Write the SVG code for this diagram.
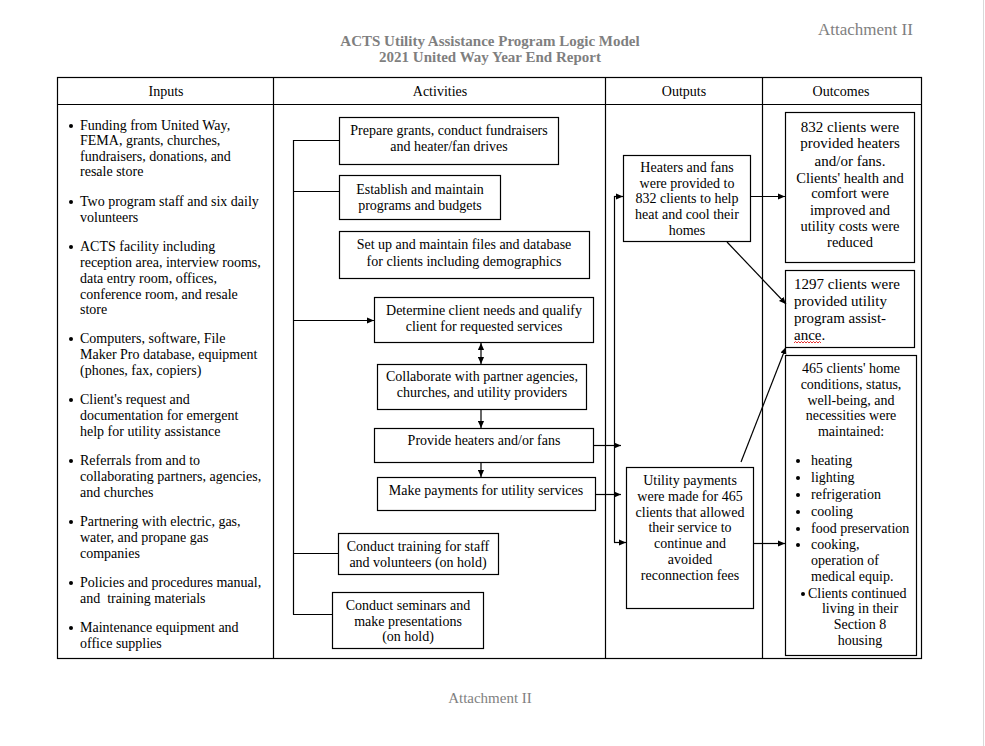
<svg xmlns="http://www.w3.org/2000/svg" width="985" height="746" viewBox="0 0 985 746">
<style>
text{font-family:"Liberation Serif","Times New Roman",serif;fill:#000;font-size:14px}
.t{fill:#7f7f7f}
.c{text-anchor:middle}
.b{fill:#fff;stroke:#000;stroke-width:1.2}
.ln{stroke:#000;stroke-width:1.2;fill:none}
.o15{font-size:15px}
</style>
<defs>
<marker id="ah" viewBox="0 0 8 8" refX="8" refY="4" markerWidth="7" markerHeight="7" markerUnits="userSpaceOnUse" orient="auto-start-reverse">
<path d="M0,0.5 L8,4 L0,7.5 Z" fill="#000"/>
</marker>
</defs>
<rect width="985" height="746" fill="#fff"/>
<line x1="983.5" y1="0" x2="983.5" y2="746" stroke="#d9d9d9" stroke-width="1"/>
<g id="titles">
<text class="t" x="818" y="35" style="font-size:17px">Attachment II</text>
<text class="t c" x="490" y="46" style="font-size:15px;font-weight:bold">ACTS Utility Assistance Program Logic Model</text>
<text class="t c" x="490" y="62" style="font-size:15px;font-weight:bold">2021 United Way Year End Report</text>
<text class="t c" x="490" y="703" style="font-size:15px">Attachment II</text>
</g>
<g id="table">
<rect x="57.5" y="77.5" width="864" height="581" fill="none" stroke="#000" stroke-width="1.2"/>
<line class="ln" x1="57.5" y1="104.5" x2="921.5" y2="104.5"/>
<line class="ln" x1="273.5" y1="77.5" x2="273.5" y2="658.5"/>
<line class="ln" x1="605.5" y1="77.5" x2="605.5" y2="658.5"/>
<line class="ln" x1="762.5" y1="77.5" x2="762.5" y2="658.5"/>
<text class="c" x="166" y="96">Inputs</text>
<text class="c" x="440" y="96">Activities</text>
<text class="c" x="684" y="96">Outputs</text>
<text class="c" x="841" y="96">Outcomes</text>
</g>
<g id="inputs">
<g fill="#000">
<circle cx="71" cy="126" r="2"/><circle cx="71" cy="202" r="2"/><circle cx="71" cy="247" r="2"/><circle cx="71" cy="339" r="2"/><circle cx="71" cy="400" r="2"/><circle cx="71" cy="461" r="2"/><circle cx="71" cy="522" r="2"/><circle cx="71" cy="583" r="2"/><circle cx="71" cy="628" r="2"/>
</g>
<text x="80" y="130">Funding from United Way,</text>
<text x="80" y="145">FEMA, grants, churches,</text>
<text x="80" y="161">fundraisers, donations, and</text>
<text x="80" y="176">resale store</text>
<text x="80" y="206">Two program staff and six daily</text>
<text x="80" y="222">volunteers</text>
<text x="80" y="251">ACTS facility including</text>
<text x="80" y="267">reception area, interview rooms,</text>
<text x="80" y="283">data entry room, offices,</text>
<text x="80" y="299">conference room, and resale</text>
<text x="80" y="314">store</text>
<text x="80" y="343">Computers, software, File</text>
<text x="80" y="359">Maker Pro database, equipment</text>
<text x="80" y="375">(phones, fax, copiers)</text>
<text x="80" y="404">Client's request and</text>
<text x="80" y="420">documentation for emergent</text>
<text x="80" y="436">help for utility assistance</text>
<text x="80" y="465">Referrals from and to</text>
<text x="80" y="481">collaborating partners, agencies,</text>
<text x="80" y="497">and churches</text>
<text x="80" y="526">Partnering with electric, gas,</text>
<text x="80" y="542">water, and propane gas</text>
<text x="80" y="558">companies</text>
<text x="80" y="587">Policies and procedures manual,</text>
<text x="80" y="603" xml:space="preserve">and  training materials</text>
<text x="80" y="632">Maintenance equipment and</text>
<text x="80" y="648">office supplies</text>
</g>
<g id="act1"><rect class="b" x="339.5" y="117.5" width="219" height="47"/>
<text class="c" x="449" y="135">Prepare grants, conduct fundraisers</text><text class="c" x="449" y="151">and heater/fan drives</text></g>
<g id="act2"><rect class="b" x="339.5" y="175.5" width="161" height="44"/>
<text class="c" x="420" y="194">Establish and maintain</text><text class="c" x="420" y="210">programs and budgets</text></g>
<g id="act3"><rect class="b" x="339.5" y="231.5" width="250" height="47"/>
<text class="c" x="464" y="249">Set up and maintain files and database</text><text class="c" x="464" y="266">for clients including demographics</text></g>
<g id="act4"><rect class="b" x="374.5" y="297.5" width="219" height="45"/>
<text class="c" x="484" y="315">Determine client needs and qualify</text><text class="c" x="484" y="331">client for requested services</text></g>
<g id="act5"><rect class="b" x="377.5" y="364.5" width="209" height="45"/>
<text class="c" x="482" y="381">Collaborate with partner agencies,</text><text class="c" x="482" y="397">churches, and utility providers</text></g>
<g id="act6"><rect class="b" x="374.5" y="428.5" width="219" height="34"/>
<text class="c" x="484" y="445">Provide heaters and/or fans</text></g>
<g id="act7"><rect class="b" x="377.5" y="477.5" width="218" height="33"/>
<text class="c" x="486" y="495">Make payments for utility services</text></g>
<g id="act8"><rect class="b" x="338.5" y="533.5" width="160" height="41"/>
<text class="c" x="418" y="551">Conduct training for staff</text><text class="c" x="418" y="567">and volunteers (on hold)</text></g>
<g id="act9"><rect class="b" x="332.5" y="592.5" width="151" height="56"/>
<text class="c" x="408" y="610">Conduct seminars and</text><text class="c" x="408" y="626">make presentations</text><text class="c" x="408" y="641">(on hold)</text></g>
<g id="out1"><rect class="b" x="623.5" y="155.5" width="127" height="86"/>
<text class="c" x="687" y="172">Heaters and fans</text><text class="c" x="687" y="188">were provided to</text><text class="c" x="687" y="203">832 clients to help</text><text class="c" x="687" y="219">heat and cool their</text><text class="c" x="687" y="235">homes</text></g>
<g id="out2"><rect class="b" x="626.5" y="467.5" width="127" height="141"/>
<text class="c" x="690" y="485">Utility payments</text><text class="c" x="690" y="501">were made for 465</text><text class="c" x="690" y="517">clients that allowed</text><text class="c" x="690" y="532">their service to</text><text class="c" x="690" y="548">continue and</text><text class="c" x="690" y="564">avoided</text><text class="c" x="690" y="580">reconnection fees</text></g>
<g id="oc1"><rect class="b" x="785.5" y="112.5" width="129" height="150"/>
<g class="o15"><text class="c o15" x="850" y="132">832 clients were</text><text class="c o15" x="850" y="148">provided heaters</text><text class="c o15" x="850" y="166">and/or fans.</text><text class="c" x="850" y="183" style="font-size:14.5px">Clients' health and</text><text class="c" x="850" y="198" style="font-size:14.5px">comfort were</text><text class="c" x="850" y="215" style="font-size:14.5px">improved and</text><text class="c" x="850" y="231" style="font-size:14.5px">utility costs were</text><text class="c" x="850" y="247" style="font-size:14.5px">reduced</text></g></g>
<g id="oc2"><rect class="b" x="785.5" y="270.5" width="129" height="77"/>
<text class="o15" x="794" y="289">1297 clients were</text><text class="o15" x="794" y="306">provided utility</text><text class="o15" x="794" y="323">program assist-</text><text class="o15" x="794" y="340">ance.</text>
<path d="M794,343 l1.5,-1.5 l1.5,1.5 l1.5,-1.5 l1.5,1.5 l1.5,-1.5 l1.5,1.5 l1.5,-1.5 l1.5,1.5 l1.5,-1.5 l1.5,1.5 l1.5,-1.5 l1.5,1.5 l1.5,-1.5 l1.5,1.5 l1.5,-1.5 l1.5,1.5 l1.5,-1.5 l1.5,1.5" fill="none" stroke="#e00000" stroke-width="0.8"/></g>
<g id="oc3"><rect class="b" x="785.5" y="355.5" width="131" height="300"/>
<text class="c" x="851" y="373">465 clients' home</text><text class="c" x="851" y="389">conditions, status,</text><text class="c" x="851" y="405">well-being, and</text><text class="c" x="851" y="420">necessities were</text><text class="c" x="851" y="436">maintained:</text>
<g fill="#000"><circle cx="798" cy="461" r="2"/><circle cx="798" cy="478" r="2"/><circle cx="798" cy="495" r="2"/><circle cx="798" cy="512" r="2"/><circle cx="798" cy="529" r="2"/><circle cx="798" cy="545" r="2"/><circle cx="803" cy="594" r="2"/></g>
<text x="811" y="465">heating</text><text x="811" y="482">lighting</text><text x="811" y="499">refrigeration</text><text x="811" y="516">cooling</text><text x="811" y="533">food preservation</text><text x="811" y="549">cooking,</text><text x="811" y="565">operation of</text><text x="811" y="581">medical equip.</text>
<text x="808" y="598">Clients continued</text><text class="c" x="860" y="613">living in their</text><text class="c" x="860" y="629">Section 8</text><text class="c" x="860" y="645">housing</text></g>
<g id="connectors" class="ln">
<line x1="293.5" y1="140" x2="293.5" y2="614.5"/>
<line x1="293" y1="140.5" x2="339" y2="140.5"/>
<line x1="293" y1="191.5" x2="339" y2="191.5"/>
<line x1="293" y1="320.5" x2="374" y2="320.5" marker-end="url(#ah)"/>
<line x1="293" y1="553.5" x2="338" y2="553.5"/>
<line x1="293" y1="614.5" x2="332" y2="614.5"/>
<line x1="481" y1="343" x2="481" y2="364" marker-start="url(#ah)" marker-end="url(#ah)"/>
<line x1="481" y1="410" x2="481" y2="428" marker-end="url(#ah)"/>
<line x1="481" y1="463" x2="481" y2="477" marker-end="url(#ah)"/>
<line x1="594" y1="445.5" x2="621" y2="445.5" marker-end="url(#ah)"/>
<line x1="596" y1="494.5" x2="621" y2="494.5" marker-end="url(#ah)"/>
<line x1="614.5" y1="196" x2="614.5" y2="542.5"/>
<line x1="614" y1="196.5" x2="623" y2="196.5" marker-end="url(#ah)"/>
<line x1="614" y1="542.5" x2="626" y2="542.5" marker-end="url(#ah)"/>
<line x1="751" y1="196.5" x2="785" y2="196.5" marker-end="url(#ah)"/>
<line x1="727" y1="242" x2="786" y2="304" marker-end="url(#ah)"/>
<line x1="741" y1="462" x2="786" y2="347" marker-end="url(#ah)"/>
<line x1="754" y1="543.5" x2="785" y2="543.5" marker-end="url(#ah)"/>
</g>
</svg>
